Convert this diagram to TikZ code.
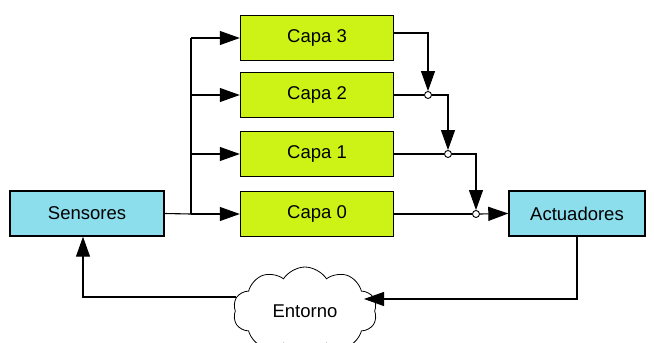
\documentclass[tikz,border=0pt]{standalone}
\usepackage{fontspec}
\setmainfont{Liberation Sans}
\usetikzlibrary{arrows.meta,shapes.symbols,calc}
\definecolor{layergreen}{RGB}{205,242,22}
\definecolor{iobluec}{RGB}{140,222,236}
\begin{document}
\begin{tikzpicture}[x=1pt,y=-1pt,
  font=\fontsize{18.5}{20}\selectfont,
  layer/.style={draw, line width=1.4pt, fill=layergreen, minimum width=153pt, minimum height=45pt, inner sep=0pt},
  iobox/.style={draw, line width=1.4pt, fill=iobluec, minimum height=45pt, inner sep=0pt},
  wire/.style={line width=1.1pt},
  arr/.style={wire, -{Triangle[length=20pt,width=14pt]}},
  junc/.style={circle, draw, line width=0.9pt, fill=white, minimum size=7pt, inner sep=0pt},
  envcloud/.style={cloud, draw, line width=0.8pt, cloud puffs=10, cloud puff arc=115, minimum width=144pt, minimum height=88pt, aspect=1.6, inner sep=0pt}]
\useasboundingbox (0,0) rectangle (654,343);

% sensor / actuator boxes
\node[iobox, minimum width=154pt] (sens) at (87,213.5) {Sensores};
\node[iobox, minimum width=136pt] (act) at (577,213.5) {Actuadores};

% behaviour layers
\node[layer] (c3) at (317,38) {Capa 3};
\node[layer] (c2) at (317,95) {Capa 2};
\node[layer] (c1) at (317,154) {Capa 1};
\node[layer] (c0) at (317,214) {Capa 0};

% environment
\node[envcloud] (env) at (305,311) {Entorno};

% input bus fanning out to every layer
\coordinate (bus) at (191,0);
\draw[wire] (sens.east) -- (bus |- c0.west);
\draw[wire] (bus |- c3.west) -- (bus |- c0.west);
\foreach \c in {c3,c2,c1,c0}
  \draw[arr] (bus |- \c.west) -- (\c.west);

% suppression junctions
\node[junc] (j2) at (428,95) {};
\node[junc] (j1) at (448,154) {};
\node[junc] (j0) at (476,214) {};

\draw[arr] ([yshift=5pt]c3.east) -| (j2.north);
\draw[wire] (c2.east) -- (j2.west);
\draw[arr] (j2.east) -| (j1.north);
\draw[wire] (c1.east) -- (j1.west);
\draw[arr] (j1.east) -| (j0.north);
\draw[wire] (c0.east) -- (j0.west);
\draw[arr] (j0.east) -- (act.west);

% loop through the environment
\coordinate (envin) at (364,299);
\coordinate (envout) at (236,297);
\draw[arr] (act.south) |- (envin);
\draw[arr] (envout) -| ([xshift=-4pt]sens.south);
\end{tikzpicture}
\end{document}
